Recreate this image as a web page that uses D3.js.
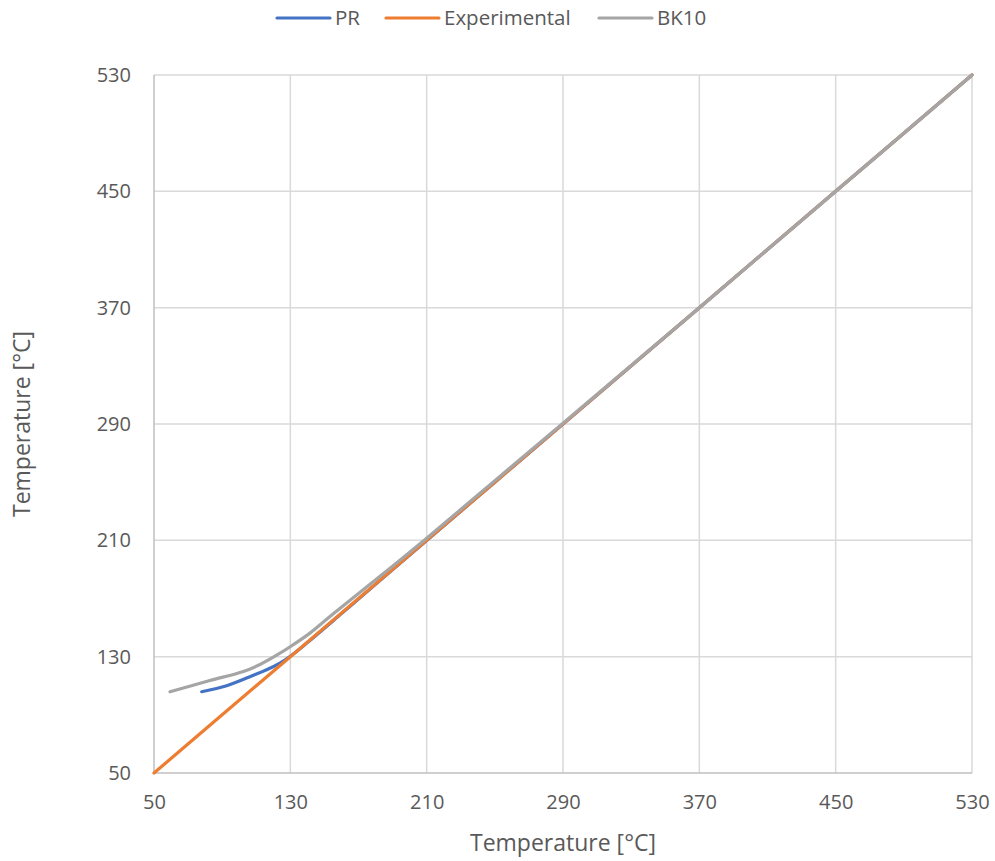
<!DOCTYPE html>
<html><head><meta charset="utf-8">
<script src="https://cdn.jsdelivr.net/npm/d3@7"></script>
<style>
html,body{margin:0;padding:0;background:#fff;}
text{font-family:"Open Sans","Noto Sans",sans-serif;fill:#595959;}
</style></head>
<body><svg id="c" width="995" height="861"></svg>
<script>
const ticks = [50, 130, 210, 290, 370, 450, 530];
const seriesNames = ["PR", "Experimental", "BK10"];
const seriesColors = ["#4472C4", "#ED7D31", "#A5A5A5"];
const prX = [78, 92.6, 104.3, 116.1, 123.9, 130, 140, 160, 180, 210, 250, 290, 370, 450, 530];
const prY = [105.9, 110, 115.3, 121, 125.6, 130.3, 139.7, 159.6, 179.7, 209.8, 250, 290, 370, 450, 530];
const expX = [50, 90, 130, 170, 210, 250, 290, 330, 370, 410, 450, 490, 530];
const expY = [50, 90, 130, 170, 210, 250, 290, 330, 370, 410, 450, 490, 530];
const bkX = [59.4, 82.8, 102.4, 112.2, 122, 131.7, 141.5, 155.2, 183, 210, 250, 290, 370, 450, 530];
const bkY = [105.9, 113.6, 119.8, 124.6, 131.0, 138.2, 146.2, 159.5, 185.6, 211.5, 251, 290.5, 370, 450, 530];

const svg = d3.select("#c");
const L = 154, R = 972, T = 75, B = 773;
const x = d3.scaleLinear().domain([50, 530]).range([L, R]);
const y = d3.scaleLinear().domain([50, 530]).range([B, T]);

// gridlines
const g = svg.append("g");
g.selectAll(".vx").data(ticks.slice(1)).enter().append("line")
  .attr("x1", d => x(d)).attr("x2", d => x(d)).attr("y1", T).attr("y2", B)
  .attr("stroke", "#d9d9d9").attr("stroke-width", 1.5);
g.selectAll(".hy").data(ticks.slice(1)).enter().append("line")
  .attr("y1", d => y(d)).attr("y2", d => y(d)).attr("x1", L).attr("x2", R)
  .attr("stroke", "#d9d9d9").attr("stroke-width", 1.5);
// axes lines
svg.append("line").attr("x1", L).attr("x2", L).attr("y1", T).attr("y2", B).attr("stroke", "#bfbfbf").attr("stroke-width", 1.5);
svg.append("line").attr("x1", L).attr("x2", R).attr("y1", B).attr("y2", B).attr("stroke", "#bfbfbf").attr("stroke-width", 1.5);

// tick labels
const xa = d3.axisBottom(x).tickValues(ticks).tickSize(0).tickPadding(22);
svg.append("g").attr("transform", `translate(0,${B})`).call(xa)
  .call(s => s.select(".domain").remove())
  .selectAll("text").style("font-size", "20px").attr("fill", "#595959");
const ya = d3.axisLeft(y).tickValues(ticks).tickSize(0).tickPadding(23);
svg.append("g").attr("transform", `translate(${L},0)`).call(ya)
  .call(s => s.select(".domain").remove())
  .selectAll("text").style("font-size", "20px").attr("fill", "#595959");

// axis titles
svg.append("text").attr("x", (L + R) / 2).attr("y", 851).attr("text-anchor", "middle")
  .style("font-size", "23px").text("Temperature [°C]");
svg.append("text").attr("transform", `translate(30,${(T + B) / 2}) rotate(-90)`).attr("text-anchor", "middle")
  .style("font-size", "23px").text("Temperature [°C]");

// lines
const line = d3.line().x(d => x(d[0])).y(d => y(d[1])).curve(d3.curveCatmullRom.alpha(0.5));
const data = [d3.zip(prX, prY), d3.zip(expX, expY), d3.zip(bkX, bkY)];
data.forEach((d, i) => {
  svg.append("path").datum(d).attr("d", line).attr("fill", "none")
    .attr("stroke", seriesColors[i]).attr("stroke-width", 3.2).attr("stroke-linecap", "round");
});

// legend
const legX = [277, 386, 599];
seriesNames.forEach((n, i) => {
  svg.append("line").attr("x1", legX[i]).attr("x2", legX[i] + 53).attr("y1", 18).attr("y2", 18)
    .attr("stroke", seriesColors[i]).attr("stroke-width", 3.2).attr("stroke-linecap", "round");
  svg.append("text").attr("x", legX[i] + 58).attr("y", 25).style("font-size", "20.5px").text(n);
});
</script></body></html>
